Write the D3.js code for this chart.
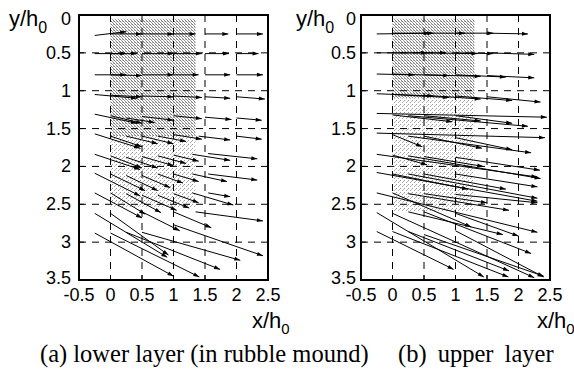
<!DOCTYPE html>
<html>
<head>
<meta charset="utf-8">
<script src="https://cdn.jsdelivr.net/npm/d3@7/dist/d3.min.js"></script>
<style>
  html, body { margin: 0; padding: 0; background: #fff; }
  svg { display: block; }
</style>
</head>
<body>
<div id="chart"></div>
<script>
// tick values
const xTicks = [-0.5, 0, 0.5, 1, 1.5, 2, 2.5];
const yTicks = [0, 0.5, 1, 1.5, 2, 2.5, 3, 3.5];
const gridX = [0, 0.5, 1, 1.5, 2];
const gridY = [0.5, 1, 1.5, 2, 2.5, 3];

// shaded rubble mound zone: [x0, x1, y0, y1, density]
const lowerShade = [[0, 1.35, 0.05, 1.6, 'dense'], [0, 1.35, 1.6, 2.55, 'light']];
const upperShade = [[0, 1.3, 0.05, 1.1, 'dense'], [0, 1.3, 1.1, 2.6, 'light']];

// velocity vectors [x, y, u, v] (tail position and vector, in x/h0, y/h0)
const lowerArrows = [
  [-0.25, 0.27, 0.5, -0.05], [0, 0.25, 0.5, 0], [0.5, 0.25, 0.5, 0], [1, 0.25, 0.35, 0], [1.5, 0.25, 0.37, 0], [2, 0.25, 0.42, 0],
  [-0.25, 0.51, 0.5, 0], [0, 0.51, 0.42, 0], [0.5, 0.51, 0.5, 0], [1, 0.51, 0.45, 0], [1.5, 0.51, 0.38, 0], [2, 0.51, 0.35, 0],
  [-0.25, 0.79, 0.5, 0], [0, 0.79, 0.5, 0.01], [0.5, 0.79, 0.5, 0], [1, 0.79, 0.4, 0], [1.5, 0.79, 0.4, 0], [2, 0.79, 0.42, 0],
  [-0.25, 1.05, 0.67, 0.05], [0, 1.06, 0.5, 0.02], [0.5, 1.07, 0.5, 0.01], [1, 1.07, 0.45, 0.02], [1.5, 1.08, 0.4, 0.02], [2, 1.08, 0.45, 0.03],
  [-0.25, 1.31, 0.67, 0.12], [0, 1.33, 0.5, 0.1], [0.25, 1.36, 0.45, 0.06], [0.5, 1.34, 0.5, 0.05], [1, 1.33, 0.45, 0.04], [1.5, 1.35, 0.42, 0.03], [2, 1.36, 0.4, 0.03],
  [-0.25, 1.57, 0.72, 0.19], [0, 1.6, 0.5, 0.14], [0.25, 1.6, 0.5, 0.1], [0.5, 1.6, 0.5, 0.1], [0.75, 1.6, 0.45, 0.07], [1, 1.58, 0.45, 0.06], [1.4, 1.6, 0.5, 0.05], [2, 1.6, 0.4, 0.04],
  [-0.25, 1.84, 0.72, 0.2], [0, 1.86, 0.5, 0.16], [0.25, 1.88, 0.5, 0.14], [0.5, 1.87, 0.5, 0.12], [0.75, 1.86, 0.45, 0.1], [1, 1.85, 0.4, 0.08], [1.3, 1.84, 0.6, 0.08], [1.55, 1.83, 0.78, 0.07],
  [-0.25, 2.09, 0.72, 0.3], [0, 2.1, 0.55, 0.22], [0.25, 2.12, 0.5, 0.2], [0.5, 2.12, 0.45, 0.16], [0.75, 2.1, 0.4, 0.12], [1, 2.1, 0.4, 0.1], [1.3, 2.1, 0.55, 0.1], [1.55, 2.1, 0.78, 0.08],
  [-0.25, 2.35, 0.75, 0.33], [0, 2.35, 0.55, 0.28], [0.25, 2.36, 0.55, 0.25], [0.5, 2.38, 0.55, 0.2], [0.75, 2.38, 0.5, 0.17], [1, 2.36, 0.4, 0.12], [1.3, 2.35, 0.65, 0.16], [1.55, 2.35, 0.35, 0.05],
  [-0.25, 2.62, 1.15, 0.58], [0, 2.62, 0.92, 0.55], [0.5, 2.6, 0.6, 0.25], [1, 2.6, 0.6, 0.21], [1.35, 2.6, 1.07, 0.12],
  [-0.25, 2.88, 1.25, 0.57], [0, 2.88, 1.41, 0.58], [0.25, 2.87, 1.49, 0.49], [0.5, 2.87, 1.56, 0.37], [1, 2.77, 1.42, 0.41]
];

const upperArrows = [
  [-0.25, 0.25, 0.9, -0.01], [0, 0.24, 0.6, 0], [0.5, 0.24, 0.65, 0], [1, 0.24, 0.6, 0], [1.5, 0.24, 0.65, 0.01],
  [-0.25, 0.5, 0.8, 0], [0, 0.5, 0.85, 0], [0.5, 0.5, 0.85, 0.01], [1, 0.5, 0.6, 0.01], [1.5, 0.5, 0.75, 0.02],
  [-0.25, 0.78, 0.6, 0.01], [0, 0.78, 0.9, 0.02], [0.5, 0.79, 0.9, 0.02], [1, 0.79, 0.8, 0.03], [1.5, 0.8, 0.75, 0.03],
  [-0.25, 1.04, 0.9, 0.03], [0, 1.05, 0.9, 0.04], [0.5, 1.06, 0.9, 0.05], [1, 1.07, 0.9, 0.06], [1.5, 1.08, 0.85, 0.07],
  [-0.25, 1.3, 2.7, 0.05], [0, 1.32, 0.95, 0.09], [0.5, 1.33, 0.9, 0.07], [1, 1.33, 0.9, 0.1], [0.25, 1.33, 1.9, 0.14],
  [-0.25, 1.56, 2.67, 0.06], [0, 1.58, 0.47, 0.16], [0.5, 1.6, 0.92, 0.16], [1, 1.62, 0.9, 0.16], [0.25, 1.6, 1.95, 0.22],
  [-0.25, 1.84, 2.55, 0.3], [0, 1.85, 0.55, 0.13], [0.5, 1.87, 0.94, 0.13], [1, 1.88, 1.34, 0.17], [0.25, 1.86, 2.1, 0.3],
  [-0.25, 2.08, 2.55, 0.38], [0, 2.1, 1.2, 0.2], [0.5, 2.1, 1.3, 0.2], [1, 2.1, 1.3, 0.17], [0.25, 2.1, 2.05, 0.32],
  [-0.25, 2.35, 2.55, 0.52], [0, 2.35, 1.25, 0.45], [0.5, 2.36, 1.0, 0.12], [1, 2.37, 1.3, 0.11], [0.25, 2.36, 1.6, 0.22],
  [-0.25, 2.61, 1.7, 0.85], [0, 2.62, 2.25, 0.85], [0.5, 2.6, 1.7, 0.55], [1, 2.62, 1.0, 0.3], [0.25, 2.6, 1.5, 0.3],
  [-0.25, 2.86, 1.22, 0.5], [0, 2.86, 1.84, 0.6], [0.5, 2.9, 1.9, 0.55], [1, 2.85, 1.4, 0.61], [0.25, 2.86, 1.6, 0.52]
];

const captions = ['(a) lower layer (in rubble mound)', '(b) upper layer'];

const W = 574, H = 375;
const plotTop = 15, plotBottom = 280;

const svg = d3.select('#chart').append('svg')
  .attr('width', W)
  .attr('height', H);

svg.append('rect').attr('width', W).attr('height', H).attr('fill', '#fff');

// stipple patterns for the shaded zone
const defs = svg.append('defs');
const dense = defs.append('pattern').attr('id', 'dense')
  .attr('width', 3).attr('height', 3).attr('patternUnits', 'userSpaceOnUse');
dense.append('rect').attr('width', 3).attr('height', 3).attr('fill', '#fff');
dense.append('rect').attr('x', 0).attr('y', 0).attr('width', 1).attr('height', 1).attr('fill', '#777');
dense.append('rect').attr('x', 1).attr('y', 1).attr('width', 1).attr('height', 1).attr('fill', '#999');
dense.append('rect').attr('x', 2).attr('y', 2).attr('width', 1).attr('height', 1).attr('fill', '#888');
dense.append('rect').attr('x', 2).attr('y', 0).attr('width', 1).attr('height', 1).attr('fill', '#bbb');
const light = defs.append('pattern').attr('id', 'light')
  .attr('width', 4).attr('height', 4).attr('patternUnits', 'userSpaceOnUse');
light.append('rect').attr('width', 4).attr('height', 4).attr('fill', '#fff');
light.append('rect').attr('x', 0).attr('y', 0).attr('width', 1).attr('height', 1).attr('fill', '#999');
light.append('rect').attr('x', 2).attr('y', 2).attr('width', 1).attr('height', 1).attr('fill', '#aaa');
light.append('rect').attr('x', 3).attr('y', 1).attr('width', 1).attr('height', 1).attr('fill', '#bbb');

function drawPanel(cfg) {
  const x = d3.scaleLinear().domain([-0.5, 2.5]).range([cfg.left, cfg.right]);
  const y = d3.scaleLinear().domain([0, 3.5]).range([plotTop, plotBottom]);
  const g = svg.append('g');

  // shaded zone
  g.selectAll('rect.shade')
    .data(cfg.shade)
    .enter()
    .append('rect')
    .attr('class', 'shade')
    .attr('x', d => x(d[0]))
    .attr('y', d => y(d[2]))
    .attr('width', d => x(d[1]) - x(d[0]))
    .attr('height', d => y(d[3]) - y(d[2]))
    .attr('fill', d => 'url(#' + d[4] + ')');

  // dashed grid
  g.selectAll('line.gx')
    .data(gridX)
    .enter()
    .append('line')
    .attr('x1', d => x(d)).attr('x2', d => x(d))
    .attr('y1', y(0)).attr('y2', y(3.5))
    .attr('stroke', '#000').attr('stroke-width', 1)
    .attr('stroke-dasharray', '7,6');
  g.selectAll('line.gy')
    .data(gridY)
    .enter()
    .append('line')
    .attr('x1', x(-0.5)).attr('x2', x(2.5))
    .attr('y1', d => y(d)).attr('y2', d => y(d))
    .attr('stroke', '#000').attr('stroke-width', 1)
    .attr('stroke-dasharray', '7,6');

  // vectors
  const arrows = g.selectAll('g.arrow')
    .data(cfg.arrows)
    .enter()
    .append('g');

  arrows.append('line')
    .attr('x1', d => x(d[0]))
    .attr('y1', d => y(d[1]))
    .attr('x2', d => x(d[0] + d[2]))
    .attr('y2', d => y(d[1] + d[3]))
    .attr('stroke', '#000')
    .attr('stroke-width', 1);

  arrows.append('path')
    .attr('d', d => {
      const x1 = x(d[0]), y1 = y(d[1]);
      const x2 = x(d[0] + d[2]), y2 = y(d[1] + d[3]);
      const a = Math.atan2(y2 - y1, x2 - x1);
      const L = 6, w = 2;
      const bx = x2 - L * Math.cos(a), by = y2 - L * Math.sin(a);
      return 'M' + x2 + ',' + y2 +
        'L' + (bx - w * Math.sin(a)) + ',' + (by + w * Math.cos(a)) +
        'L' + (bx + w * Math.sin(a)) + ',' + (by - w * Math.cos(a)) + 'Z';
    })
    .attr('fill', '#000');

  // frame
  g.append('rect')
    .attr('x', x(-0.5)).attr('y', y(0))
    .attr('width', x(2.5) - x(-0.5))
    .attr('height', y(3.5) - y(0))
    .attr('fill', 'none')
    .attr('stroke', '#000')
    .attr('stroke-width', 2);

  // inward ticks
  g.selectAll('line.tx')
    .data(xTicks)
    .enter()
    .append('line')
    .attr('x1', d => x(d)).attr('x2', d => x(d))
    .attr('y1', y(3.5)).attr('y2', y(3.5) - 5)
    .attr('stroke', '#000');
  g.selectAll('line.ty')
    .data(yTicks)
    .enter()
    .append('line')
    .attr('x1', x(-0.5)).attr('x2', x(-0.5) + 5)
    .attr('y1', d => y(d)).attr('y2', d => y(d))
    .attr('stroke', '#000');

  // tick labels
  g.selectAll('text.xl')
    .data(xTicks)
    .enter()
    .append('text')
    .attr('x', d => x(d))
    .attr('y', 301)
    .attr('text-anchor', 'middle')
    .attr('font-family', 'Liberation Sans, Arial, sans-serif')
    .attr('font-size', 18)
    .text(d => String(d));
  g.selectAll('text.yl')
    .data(yTicks)
    .enter()
    .append('text')
    .attr('x', x(-0.5) - cfg.labelGap)
    .attr('y', d => d === 0 ? y(d) + 10 : (d === 3.5 ? y(d) + 4 : y(d) + 6))
    .attr('text-anchor', 'end')
    .attr('font-family', 'Liberation Sans, Arial, sans-serif')
    .attr('font-size', 18)
    .text(d => String(d));

  // axis titles
  const yt = g.append('text')
    .attr('x', cfg.yTitleX)
    .attr('y', 26)
    .attr('font-family', 'Liberation Sans, Arial, sans-serif')
    .attr('font-size', 22);
  yt.append('tspan').text('y/h');
  yt.append('tspan').attr('font-size', 16).attr('dy', 7).text('0');

  const xt = g.append('text')
    .attr('x', cfg.xTitleX)
    .attr('y', 328)
    .attr('font-family', 'Liberation Sans, Arial, sans-serif')
    .attr('font-size', 22);
  xt.append('tspan').text('x/h');
  xt.append('tspan').attr('font-size', 15).attr('dy', 6).text('0');

  svg.append('text')
    .attr('x', cfg.captionX)
    .attr('y', 362)
    .attr('font-family', 'Liberation Serif, Times New Roman, serif')
    .attr('font-size', 24.5)
    .attr('word-spacing', cfg.wordSpacing)
    .text(cfg.caption);
}

drawPanel({ left: 79, right: 268, arrows: lowerArrows, shade: lowerShade, labelGap: 8,
  yTitleX: 9, xTitleX: 252, captionX: 40, wordSpacing: 0, caption: captions[0] });
drawPanel({ left: 361, right: 550, arrows: upperArrows, shade: upperShade, labelGap: 5,
  yTitleX: 296, xTitleX: 537, captionX: 398, wordSpacing: 5, caption: captions[1] });
</script>
</body>
</html>
